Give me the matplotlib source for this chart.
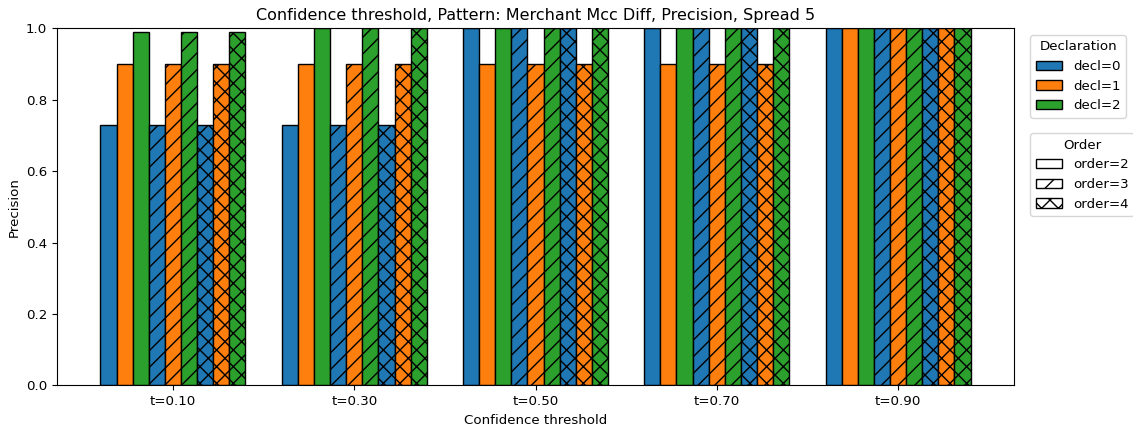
import numpy as np
import matplotlib
matplotlib.use('Agg')
from matplotlib import pyplot as plt
import matplotlib.patches as mpatches

plt.rcParams['font.size'] = 9.6

thresholds = ['t=0.10', 't=0.30', 't=0.50', 't=0.70', 't=0.90']
decls = ['decl=0', 'decl=1', 'decl=2']
orders = ['order=2', 'order=3', 'order=4']

# precision[order][decl] -> values per threshold
prec_order2 = {
    'decl=0': [0.73, 0.73, 1.00, 1.00, 1.00],
    'decl=1': [0.90, 0.90, 0.90, 0.90, 1.00],
    'decl=2': [0.99, 1.00, 1.00, 1.00, 1.00],
}
prec_order3 = {
    'decl=0': [0.73, 0.73, 1.00, 1.00, 1.00],
    'decl=1': [0.90, 0.90, 0.90, 0.90, 1.00],
    'decl=2': [0.99, 1.00, 1.00, 1.00, 1.00],
}
prec_order4 = {
    'decl=0': [0.73, 0.73, 1.00, 1.00, 1.00],
    'decl=1': [0.90, 0.90, 0.90, 0.90, 1.00],
    'decl=2': [0.99, 1.00, 1.00, 1.00, 1.00],
}
precision = [prec_order2, prec_order3, prec_order4]

colors = ['#1f77b4', '#ff7f0e', '#2ca02c']
hatches = ['', '//', 'xx']

fig = plt.figure(figsize=(11.33, 4.30), dpi=100)
ax = fig.add_axes([0.0503, 0.104, 0.8447, 0.83])

x = np.arange(len(thresholds))
n_bars = len(orders) * len(decls)
width = 0.8 / n_bars
k = 0
for oi, order in enumerate(orders):
    for di, decl in enumerate(decls):
        offs = (k - (n_bars - 1) / 2) * width
        ax.bar(x + offs, precision[oi][decl], width, color=colors[di],
               hatch=hatches[oi], edgecolor='black', linewidth=1)
        k += 1

ax.set_xticks(x)
ax.set_xticklabels(thresholds)
ax.set_ylim(0, 1.0)
ax.set_xlabel('Confidence threshold')
ax.set_ylabel('Precision')
ax.set_title('Confidence threshold, Pattern: Merchant Mcc Diff, Precision, Spread 5',
             fontsize=11.5)

decl_handles = [mpatches.Patch(facecolor=c, edgecolor='black', label=d)
                for c, d in zip(colors, decls)]
order_handles = [mpatches.Patch(facecolor='white', edgecolor='black', hatch=h, label=o)
                 for h, o in zip(hatches, orders)]
leg1 = ax.legend(handles=decl_handles, title='Declaration', loc='upper left',
                 bbox_to_anchor=(1.01, 1.0))
ax.add_artist(leg1)
ax.legend(handles=order_handles, title='Order', loc='upper left',
          bbox_to_anchor=(1.01, 0.725))

fig.savefig('out.png', dpi=100)
